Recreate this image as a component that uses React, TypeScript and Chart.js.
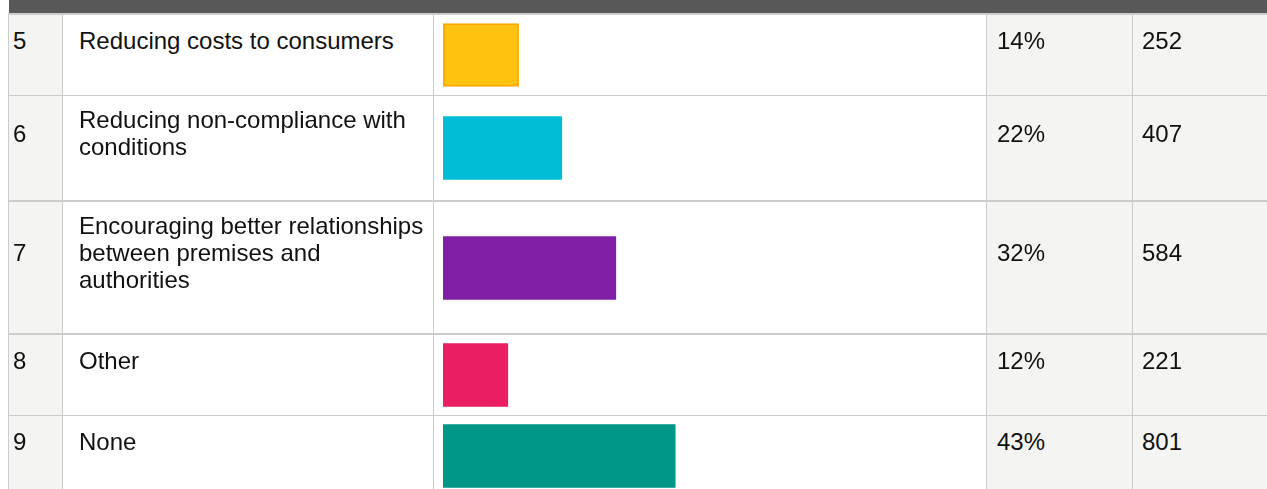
import React, { useEffect, useRef } from "react";
import { Chart, registerables } from "chart.js";

Chart.register(...registerables);

const rowNumbers = ["5", "6", "7", "8", "9"];
const categories = [
  "Reducing costs to consumers",
  "Reducing non-compliance with conditions",
  "Encouraging better relationships between premises and authorities",
  "Other",
  "None",
];
const percentages = [14, 22, 32, 12, 43];
const counts = [252, 407, 584, 221, 801];
const barColors = ["#FFC20E", "#00BCD4", "#801FA6", "#E91E63", "#009688"];
const barBorders = ["#FFA800", "#00BCD4", "#801FA6", "#E91E63", "#009688"];
const barBorderWidths = [2, 0, 0, 0, 0];

const FONT = '"Liberation Sans", Arial, sans-serif';
const GRAY_CELL = "#F4F4F2";
const BORDER = "#CCCCCC";
const TEXT = "#111111";

function RowBar({ idx }: { idx: number }) {
  const ref = useRef<HTMLCanvasElement | null>(null);
  useEffect(() => {
    if (!ref.current) return;
    const chart = new Chart(ref.current, {
      type: "bar",
      data: {
        labels: [categories[idx]],
        datasets: [
          {
            data: [percentages[idx]],
            backgroundColor: barColors[idx],
            borderColor: barBorders[idx],
            borderWidth: barBorderWidths[idx],
            borderSkipped: false,
            barThickness: 63,
          } as any,
        ],
      },
      options: {
        indexAxis: "y",
        responsive: false,
        animation: false,
        layout: { padding: { left: 9, right: 3, top: 0, bottom: 0 } },
        scales: {
          x: { min: 0, max: 100, display: false },
          y: { display: false },
        },
        plugins: { legend: { display: false }, tooltip: { enabled: false } },
      },
    });
    return () => chart.destroy();
  }, [idx]);
  return <canvas ref={ref} width={552} height={80} style={{ display: "block", width: 552, height: 80 }} />;
}

const textCell = (bg: string, padLeft: number, padRight: number, extraTop: number): React.CSSProperties => ({
  background: bg,
  padding: `10px ${padRight}px 40px ${padLeft}px`,
  display: "flex",
  alignItems: "center",
  boxSizing: "border-box",
  marginTop: extraTop,
});

export default function App() {
  useEffect(() => {
    document.body.style.margin = "0";
  }, []);
  return (
    <div
      style={{
        position: "relative",
        width: 1267,
        height: 489,
        overflow: "hidden",
        background: "#fff",
        fontFamily: FONT,
        fontSize: 24,
        lineHeight: "27px",
        color: TEXT,
      }}
    >
      <div style={{ position: "absolute", left: 9, top: 0, width: 1300, height: 13, background: "#575857" }} />
      <div
        style={{
          position: "absolute",
          left: 8,
          top: 13,
          width: 1300,
          height: 600,
          background: BORDER,
          paddingTop: 2,
          paddingLeft: 1,
          boxSizing: "border-box",
        }}
      >
        <div
          style={{
            display: "grid",
            gridTemplateColumns: "53px 370px 552px 145px 200px",
            columnGap: 1,
            rowGap: 1,
          }}
        >
          {categories.map((cat, i) => {
            const extra = i === 2 || i === 3 ? 1 : 0;
            return (
              <React.Fragment key={i}>
                <div style={textCell(GRAY_CELL, 4, 2, extra)}>
                  <div>{rowNumbers[i]}</div>
                </div>
                <div style={textCell("#fff", 16, 8, extra)}>
                  <div>{cat}</div>
                </div>
                <div
                  style={{
                    background: "#fff",
                    display: "flex",
                    alignItems: "center",
                    minHeight: 80,
                    marginTop: extra,
                  }}
                >
                  <RowBar idx={i} />
                </div>
                <div style={textCell(GRAY_CELL, 10, 4, extra)}>
                  <div>{percentages[i]}%</div>
                </div>
                <div style={textCell(GRAY_CELL, 9, 4, extra)}>
                  <div>{counts[i]}</div>
                </div>
              </React.Fragment>
            );
          })}
        </div>
      </div>
    </div>
  );
}
